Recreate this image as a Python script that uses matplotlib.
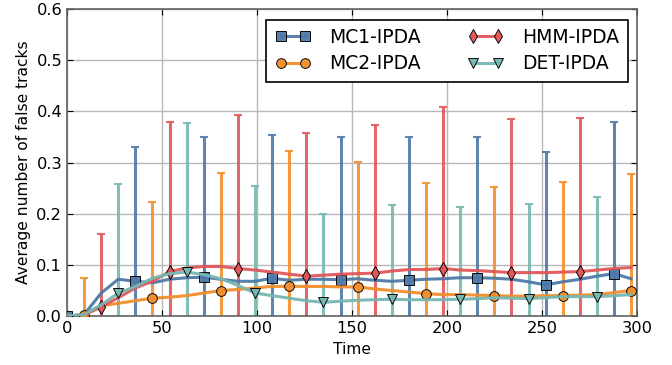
import numpy as np
import matplotlib
matplotlib.use("Agg")
import matplotlib.pyplot as plt

# time axis (samples every 9 steps)
time = np.arange(0, 298, 9)

mc1 = [0.0, 0.003, 0.045, 0.072, 0.068, 0.065, 0.072, 0.075, 0.076, 0.072,
       0.068, 0.068, 0.074, 0.070, 0.072, 0.072, 0.071, 0.073, 0.070, 0.068,
       0.070, 0.072, 0.073, 0.075, 0.075, 0.074, 0.072, 0.067, 0.061, 0.067,
       0.072, 0.078, 0.083, 0.073]
mc2 = [0.0, 0.003, 0.020, 0.025, 0.030, 0.035, 0.037, 0.040, 0.045, 0.050,
       0.052, 0.055, 0.058, 0.058, 0.058, 0.058, 0.057, 0.057, 0.053, 0.050,
       0.047, 0.044, 0.042, 0.042, 0.041, 0.040, 0.039, 0.039, 0.040, 0.040,
       0.041, 0.042, 0.046, 0.050]
hmm = [0.0, 0.002, 0.018, 0.036, 0.055, 0.068, 0.087, 0.094, 0.097, 0.097,
       0.093, 0.090, 0.086, 0.082, 0.078, 0.080, 0.082, 0.083, 0.084, 0.088,
       0.091, 0.091, 0.093, 0.090, 0.089, 0.087, 0.085, 0.085, 0.085, 0.086,
       0.087, 0.090, 0.093, 0.095]
det = [0.0, 0.003, 0.022, 0.045, 0.058, 0.074, 0.083, 0.086, 0.081, 0.073,
       0.060, 0.045, 0.040, 0.035, 0.030, 0.027, 0.029, 0.031, 0.032, 0.033,
       0.032, 0.032, 0.032, 0.033, 0.034, 0.036, 0.035, 0.034, 0.036, 0.038,
       0.038, 0.038, 0.040, 0.042]

# upper ends of the error bars at the marker positions
mc1_top = [0.0, 0.331, 0.350, 0.354, 0.350, 0.350, 0.350, 0.320, 0.379]
mc2_top = [0.075, 0.223, 0.280, 0.322, 0.302, 0.260, 0.252, 0.262, 0.278]
hmm_top = [0.160, 0.379, 0.393, 0.358, 0.373, 0.408, 0.385, 0.387]
det_top = [0.258, 0.378, 0.255, 0.200, 0.217, 0.213, 0.219, 0.233]

labels = ["MC1-IPDA", "MC2-IPDA", "HMM-IPDA", "DET-IPDA"]
colors = ["#4e79a7", "#f28e2b", "#e15759", "#76b7b2"]
markers = ["s", "o", "d", "v"]

plt.rcParams["font.family"] = "DejaVu Sans"
fig = plt.figure(figsize=(6.72, 3.65), dpi=100)
ax = fig.add_axes([0.0997, 0.134, 0.848, 0.841])

series = [mc1, mc2, hmm, det]
tops = [mc1_top, mc2_top, hmm_top, det_top]
for k, (y, top) in enumerate(zip(series, tops)):
    y = np.asarray(y)
    idx = np.arange(k, len(time), 4)[:len(top)]
    err = np.asarray(top) - y[idx]
    ax.errorbar(time[idx], y[idx], yerr=err, fmt="none", ecolor=colors[k],
                elinewidth=2.2, capsize=3, capthick=1.5, alpha=0.9, zorder=2)

for k, y in enumerate(series):
    ax.plot(time, y, color=colors[k], lw=2.2, alpha=0.95, marker=markers[k],
            markevery=(k, 4), markersize=7 if markers[k] != "d" else 7.5,
            markerfacecolor=colors[k], markeredgecolor="black",
            markeredgewidth=0.7, label=labels[k], zorder=3)

ax.set_xlim(0, 300)
ax.set_ylim(0, 0.6)
ax.set_xticks([0, 50, 100, 150, 200, 250, 300])
ax.set_yticks([0.0, 0.1, 0.2, 0.3, 0.4, 0.5, 0.6])
ax.set_xlabel("Time", fontsize=11.2)
ax.set_ylabel("Average number of false tracks", fontsize=11.2)
ax.tick_params(direction="in", top=True, right=True, labelsize=11.7, length=4)
ax.grid(True, color="0.72", linewidth=1, zorder=0)
ax.set_axisbelow(True)
for s in ax.spines.values():
    s.set_color("0.38")
    s.set_linewidth(1.2)

leg = ax.legend(loc="upper right", ncol=2, numpoints=2, fontsize=13.5,
                fancybox=False, edgecolor="black", framealpha=1,
                bbox_to_anchor=(0.984, 0.966), borderaxespad=0,
                columnspacing=2.5, handlelength=1.9, handletextpad=1.0,
                borderpad=0.45, labelspacing=0.38)
leg.get_frame().set_linewidth(1.2)

fig.savefig("out.png", dpi=100)
